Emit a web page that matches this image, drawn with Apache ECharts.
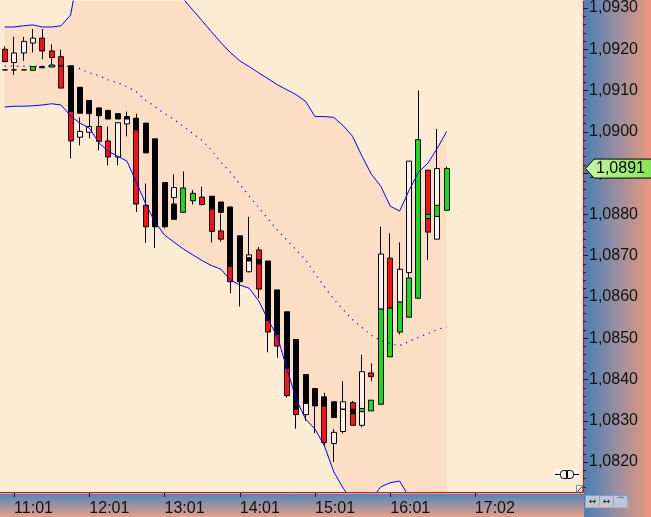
<!DOCTYPE html>
<html><head><meta charset="utf-8">
<script src="https://cdn.jsdelivr.net/npm/echarts@6/dist/echarts.min.js"></script>
<style>html,body{margin:0;padding:0;background:#FEEBD3;}#c{width:651px;height:517px;}</style>
</head><body><div id="c"></div>
<script>
// ---- data ----
const timeLabels = ['11:01','12:01','13:01','14:01','15:01','16:01','17:02'];
const timeSlots  = [1, 9, 17, 25, 33, 41, 50];
const slotCount  = 62;
const priceTicks = [1.0820,1.0830,1.0840,1.0850,1.0860,1.0870,1.0880,1.0890,1.0900,1.0910,1.0920,1.0930];

// candles: [open, close, low, high]; white/black family
const monoMain = [
 [1.09150,1.09150,1.09150,1.09150],[1.09168,1.09191,1.09168,1.09230],[1.09191,1.09219,1.09172,1.09230],[1.09215,1.09227,1.09192,1.09249],
 null,null,null,
 [1.09160,1.09050,1.09050,1.09160],[1.09108,1.09045,1.09045,1.09108],[1.09076,1.09044,1.09044,1.09076],[1.09058,1.09039,1.09039,1.09058],
 [1.09052,1.09031,1.09031,1.09052],[1.09044,1.09031,1.09031,1.09044],[1.09037,1.09031,1.09031,1.09049],[1.09033,1.09005,1.09005,1.09044],
 [1.09021,1.08949,1.08949,1.09021],[1.08983,1.08770,1.08719,1.08983],[1.08877,1.08770,1.08766,1.08877],[1.08841,1.08865,1.08841,1.08897],
 null,null,null,
 [1.08844,1.08813,1.08813,1.08844],[1.08830,1.08805,1.08805,1.08830],[1.08818,1.08674,1.08674,1.08818],[1.08748,1.08637,1.08577,1.08748],
 [1.08661,1.08702,1.08660,1.08794],
 null,
 [1.08687,1.08543,1.08543,1.08687],[1.08617,1.08510,1.08510,1.08617],[1.08564,1.08428,1.08428,1.08564],[1.08497,1.08329,1.08329,1.08497],
 [1.08412,1.08342,1.08342,1.08412],[1.08378,1.08336,1.08270,1.08378],[1.08358,1.08336,1.08336,1.08368],[1.08346,1.08308,1.08308,1.08346],
 [1.08274,1.08346,1.08269,1.08396],
 null,
 [1.08289,1.08419,1.08284,1.08460],
 null,
 [1.08571,1.08704,1.08571,1.08770],
 null,
 [1.08588,1.08667,1.08588,1.08732],[1.08659,1.08929,1.08659,1.08929],
 null,null,
 [1.08740,1.08911,1.08740,1.09007],
 null
];
const monoInner = [
 null,[1.09150,1.09150,1.09138,1.09168],[1.09150,1.09150,1.09150,1.09150],null,null,null,[1.09160,1.09160,1.09160,1.09160],null,
 [1.08987,1.09001,1.08967,1.09035],[1.08999,1.09013,1.08984,1.09044],null,null,[1.08939,1.09022,1.08919,1.09022],[1.09019,1.09031,1.08989,1.09031],
 null,null,null,null,[1.08825,1.08788,1.08788,1.08841],null,null,null,null,null,null,null,
 [1.08695,1.08687,1.08687,1.08695],[1.08691,1.08680,1.08680,1.08691],null,null,null,null,
 [1.08315,1.08342,1.08300,1.08342],null,null,[1.08245,1.08272,1.08200,1.08280],[1.08328,1.08328,1.08328,1.08328],[1.08328,1.08317,1.08317,1.08328],
 null,null,null,null,null,null,null,null,null,null
];
// green/red family
const colorMain = [
 [1.09200,1.09170,1.09170,1.09207],null,null,[1.09149,1.09158,1.09149,1.09158],[1.09227,1.09196,1.09176,1.09249],[1.09196,1.09180,1.09162,1.09212],
 [1.09182,1.09106,1.09106,1.09199],[1.09050,1.08978,1.08936,1.09050],null,null,[1.09013,1.08977,1.08955,1.09039],[1.08978,1.08939,1.08919,1.09013],
 null,null,[1.09005,1.08825,1.08806,1.09005],[1.08822,1.08770,1.08731,1.08875],null,null,null,
 [1.08805,1.08864,1.08805,1.08904],[1.08833,1.08851,1.08824,1.08859],[1.08842,1.08824,1.08821,1.08867],[1.08813,1.08759,1.08732,1.08813],
 [1.08760,1.08740,1.08734,1.08802],[1.08674,1.08637,1.08609,1.08674],null,null,[1.08714,1.08619,1.08597,1.08721],
 [1.08543,1.08515,1.08466,1.08543],[1.08510,1.08481,1.08453,1.08510],[1.08428,1.08361,1.08356,1.08428],[1.08329,1.08315,1.08281,1.08329],
 null,null,[1.08336,1.08247,1.08239,1.08336],null,null,[1.08344,1.08289,1.08289,1.08348],null,[1.08416,1.08407,1.08396,1.08439],
 [1.08340,1.08571,1.08340,1.08571],[1.08694,1.08573,1.08573,1.08754],[1.08515,1.08588,1.08509,1.08588],[1.08551,1.08646,1.08551,1.08659],
 [1.08597,1.08981,1.08597,1.09100],[1.08907,1.08757,1.08690,1.08907],null,[1.08810,1.08911,1.08810,1.08916]
];
const colorInner = [
 null,null,null,null,[1.09155,1.09158,1.09155,1.09158],[1.09157,1.09162,1.09157,1.09162],null,null,null,null,
 null,null,null,null,null,null,null,null,null,null,null,null,null,null,null,null,null,null,null,null,
 null,null,null,null,null,null,null,null,[1.08322,1.08330,1.08322,1.08330],[1.08324,1.08350,1.08324,1.08350],
 null,[1.08455,1.08573,1.08455,1.08573],null,null,null,[1.08790,1.08800,1.08790,1.08800],[1.08795,1.08822,1.08795,1.08822],null
];

// channel lines
const upperBand = [1.09254,1.09254,1.09257,1.09259,1.09254,1.09254,1.09257,1.09283,1.09401,1.09462,1.09486,1.09498,1.09510,1.09522,1.09510,1.09474,
 1.09438,1.09401,1.09360,1.09322,1.09295,1.09269,1.09242,1.09216,1.09192,1.09172,1.09158,1.09143,1.09129,1.09114,1.09102,1.09090,
 1.09074,1.09037,1.09037,1.09035,1.09015,1.08989,1.08941,1.08897,1.08868,1.08820,1.08808,1.08858,1.08902,1.08924,1.08960,1.09001];
const lowerBand = [1.09060,1.09062,1.09062,1.09063,1.09065,1.09068,1.09065,1.09039,1.09021,1.09009,1.08974,1.08953,1.08941,1.08929,1.08878,1.08825,
 1.08781,1.08750,1.08733,1.08716,1.08702,1.08688,1.08676,1.08667,1.08641,1.08629,1.08621,1.08591,1.08545,1.08504,1.08427,1.08352,
 1.08304,1.08280,1.08239,1.08176,1.08137,1.08103,1.08087,1.08111,1.08140,1.08150,1.08154,1.08115,1.08087,1.08074,1.08062,1.08050];
const middleLine = [1.09159,1.09159,1.09159,1.09159,1.09159,1.09159,1.09159,1.09158,1.09153,1.09143,1.09136,1.09126,1.09119,1.09109,1.09097,1.09076,
 1.09061,1.09044,1.09030,1.09013,1.08996,1.08979,1.08955,1.08926,1.08902,1.08873,1.08844,1.08817,1.08789,1.08762,1.08738,1.08714,
 1.08690,1.08656,1.08625,1.08594,1.08569,1.08545,1.08526,1.08507,1.08494,1.08487,1.08482,1.08492,1.08502,1.08511,1.08521,1.08528];

// ---- build ----
const Y_MIN = 1.081275, Y_MAX = 1.093169;
const categories = Array.from({length: slotCount}, (_, i) => String(i));
const labelFor = i => { const k = timeSlots.indexOf(i); return k >= 0 ? timeLabels[k] : ''; };
const minorTicks = [];
for (let k = 10814; k <= 10930; k += 2) { if (k % 10 !== 0) minorTicks.push(k / 10000); }
const toData = arr => arr.map(d => d ? d : ['-','-','-','-']);
const bandSpan = upperBand.map((u, i) => +(u - lowerBand[i]).toFixed(5));
const fmt = v => v.toFixed(4).replace('.', ',');
const FONT = 'Liberation Sans';

function candle(data, up, down) {
  return {
    type: 'candlestick', data: toData(data), barWidth: 5.5, silent: true, z: 2,
    itemStyle: { color: up, color0: down, borderColor: '#000', borderColor0: '#000', borderColorDoji: '#000', borderWidth: 1 }
  };
}
function line(data, style) {
  return { type: 'line', data, symbol: 'none', silent: true, z: 3, lineStyle: style };
}

const option = {
  animation: false,
  backgroundColor: '#FEEBD3',
  grid: { left: -3.4, right: 68, top: 0, bottom: 24, show: true, backgroundColor: '#FEEBD3', borderWidth: 0 },
  xAxis: {
    type: 'category', data: categories, boundaryGap: true, z: 5,
    axisLine: { show: true, lineStyle: { color: '#FF0000', width: 1 } },
    axisTick: { show: true, alignWithLabel: true, interval: i => timeSlots.includes(i), length: 5, lineStyle: { color: '#1a1a1a' } },
    axisLabel: { interval: i => timeSlots.includes(i), formatter: (v, i) => labelFor(i), align: 'left', margin: 9,
                 color: '#111', fontSize: 16, fontFamily: FONT },
    splitLine: { show: false }
  },
  yAxis: [
    { type: 'value', position: 'right', min: Y_MIN, max: Y_MAX, z: 5,
      axisLine: { show: true, lineStyle: { color: '#FF0000', width: 1 } },
      axisTick: { show: true, customValues: priceTicks, length: 5, lineStyle: { color: '#1a1a1a' } },
      axisLabel: { show: true, customValues: priceTicks, formatter: fmt, margin: 6, color: '#111', fontSize: 16, fontFamily: FONT },
      splitLine: { show: false } },
    { type: 'value', position: 'right', min: Y_MIN, max: Y_MAX, z: 5,
      axisLine: { show: false },
      axisTick: { show: true, customValues: minorTicks, length: 3, lineStyle: { color: '#1a1a1a' } },
      axisLabel: { show: false }, splitLine: { show: false } }
  ],
  series: [
    { type: 'line', data: lowerBand, stack: 'band', symbol: 'none', silent: true, z: 1, lineStyle: { width: 0, opacity: 0 } },
    { type: 'line', data: bandSpan, stack: 'band', symbol: 'none', silent: true, z: 1, lineStyle: { width: 0, opacity: 0 },
      areaStyle: { color: '#FCDEC4', opacity: 1 } },
    candle(colorMain, '#12E012', '#FF1010'),
    candle(monoMain, '#FFF1EA', '#000000'),
    candle(colorInner, '#12E012', '#FF1010'),
    candle(monoInner, '#FFF1EA', '#000000'),
    line(lowerBand, { color: '#0000FF', width: 1 }),
    line(upperBand, { color: '#0000FF', width: 1 }),
    line(middleLine, { color: '#0000FF', width: 1.2, type: [1.2, 5] })
  ]
};

const chart = echarts.init(document.getElementById('c'), null, { renderer: 'canvas', width: 651, height: 517 });
chart.setOption(option);

const lastClose = colorMain[colorMain.length - 1][1];
const yc = chart.convertToPixel({ yAxisIndex: 0 }, lastClose);
const G = echarts.graphic;
chart.setOption({
  graphic: [
    { type: 'rect', z: 1, shape: { x: 584, y: 0, width: 67, height: 517 },
      style: { fill: new G.LinearGradient(0, 0, 1, 0, [{ offset: 0, color: '#4A7FB4' }, { offset: 0.5, color: '#9A8FA0' }, { offset: 1, color: '#EA977C' }]) } },
    { type: 'rect', z: 1, shape: { x: 0, y: 493.5, width: 584, height: 24 },
      style: { fill: new G.LinearGradient(0, 0, 0, 1, [{ offset: 0, color: '#4F84BA' }, { offset: 1, color: '#EBA085' }]) } },
    { type: 'rect', z: 2, shape: { x: 585, y: 495, width: 44, height: 13 },
      style: { fill: new G.LinearGradient(0, 0, 0, 1, [{ offset: 0, color: '#7E9FC4' }, { offset: 1, color: '#C6A9A4' }]) } },
    { type: 'rect', z: 3, shape: { x: 586, y: 496, width: 13, height: 11 }, style: { fill: '#BCC6D6' } },
    { type: 'rect', z: 3, shape: { x: 600, y: 496, width: 13, height: 11 }, style: { fill: '#BCC6D6' } },
    { type: 'rect', z: 3, shape: { x: 614, y: 496, width: 13, height: 11 }, style: { fill: '#BCC6D6' } },
    { type: 'text', z: 4, x: 592.5, y: 501.5, style: { text: '↔', font: '9px "DejaVu Sans"', fill: '#111', align: 'center', verticalAlign: 'middle' } },
    { type: 'text', z: 4, x: 606.5, y: 501.5, style: { text: '↔', font: '9px "DejaVu Sans"', fill: '#111', align: 'center', verticalAlign: 'middle' } },
    { type: 'text', z: 4, x: 620.5, y: 501.5, style: { text: '⌒', font: '9px "DejaVu Sans"', fill: '#111', align: 'center', verticalAlign: 'middle' } },
    // connector icon
    { type: 'rect', z: 3, shape: { x: 555, y: 469, width: 24, height: 10 }, style: { fill: '#FFF7EE' } },
    { type: 'line', z: 4, shape: { x1: 555, y1: 474.5, x2: 560, y2: 474.5 }, style: { stroke: '#000', lineWidth: 1 } },
    { type: 'line', z: 4, shape: { x1: 574, y1: 474.5, x2: 579, y2: 474.5 }, style: { stroke: '#000', lineWidth: 1 } },
    { type: 'rect', z: 4, shape: { x: 560.5, y: 470.5, width: 6, height: 8, r: [3, 0, 0, 3] }, style: { fill: 'none', stroke: '#000', lineWidth: 1 } },
    { type: 'rect', z: 4, shape: { x: 567.5, y: 470.5, width: 6, height: 8, r: [0, 3, 3, 0] }, style: { fill: 'none', stroke: '#000', lineWidth: 1 } },
    // resize corner
    { type: 'rect', z: 3, shape: { x: 576.5, y: 485.5, width: 6, height: 6.5 }, style: { fill: '#FFFFFF', stroke: '#8A8A8A', lineWidth: 1 } },
    { type: 'line', z: 4, shape: { x1: 577.5, y1: 491.5, x2: 582, y2: 486.5 }, style: { stroke: '#222', lineWidth: 1 } },
    // last price tag
    { type: 'polygon', z: 10, shape: { points: [[585.5, yc], [594, yc - 9.5], [652, yc - 9.5], [652, yc + 9.5], [594, yc + 9.5]] },
      style: { fill: new G.LinearGradient(0, 0, 1, 0, [{ offset: 0, color: '#C6F7A2' }, { offset: 1, color: '#86E452' }]), stroke: '#000', lineWidth: 1 } },
    { type: 'text', z: 11, x: 596, y: yc, style: { text: fmt(lastClose), font: '16px "' + FONT + '"', fill: '#000', align: 'left', verticalAlign: 'middle' } }
  ]
});
</script>
</body></html>
